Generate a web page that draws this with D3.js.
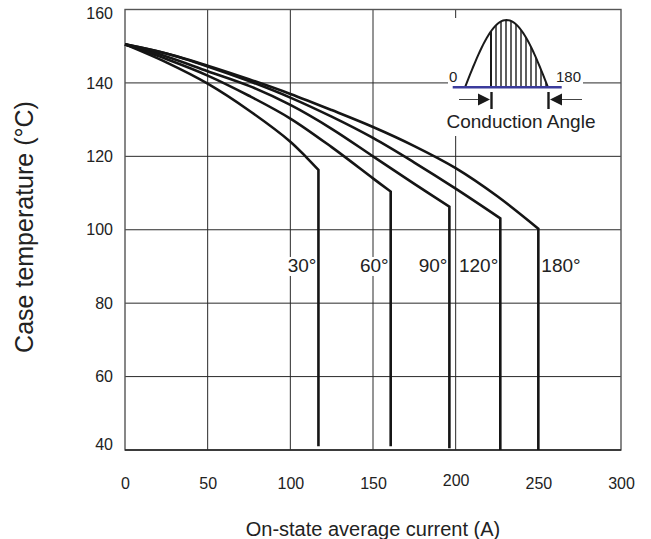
<!DOCTYPE html>
<meta charset="utf-8">
<html>
<head>
    <title>Case temperature vs on-state average current</title>
</head>
<style>
    *{ margin:0; padding:0;}
    body{ background:#fff;}
    svg text{ font-family:'Liberation Sans', Arial, sans-serif; fill:#222;}
</style>
<body>
<div id="chartContainer"></div>
<script src="https://cdn.jsdelivr.net/npm/d3@7"></script>
<script type="text/javascript">

    // curve data: [current A, case temp C]
    var angles = ["30°", "60°", "90°", "120°", "180°"];
    var curve30  = [[0,150.5],[25,145.6],[50,139.8],[75,132.5],[100,124],[110,119.6],[117,116.3]];
    var curve60  = [[0,150.5],[25,146.5],[50,142],[75,136.5],[100,130.3],[125,122.5],[150,114],[160.7,110.4]];
    var curve90  = [[0,150.5],[25,147.2],[50,143.2],[75,139.2],[100,134],[125,127.5],[150,120],[175,112.5],[196.2,106.3]];
    var curve120 = [[0,150.5],[25,148],[50,144.5],[75,140.5],[100,136],[125,130.8],[150,125],[175,118.3],[200,111.2],[227,103.1]];
    var curve180 = [[0,150.5],[25,148],[50,144.7],[75,141],[100,137],[125,132.6],[150,128],[175,122.8],[200,116.8],[225,109.2],[250,100.3]];
    var curveEnds = [41, 41, 40.5, 40, 40];   // where the vertical drops stop

    var xTicks = [0, 50, 100, 150, 200, 250, 300];
    var yTicks = [40, 60, 80, 100, 120, 140, 160];
    var xGrid = [50, 100, 150, 200];
    var yGrid = [60, 80, 100, 120, 140];

    var curves = [curve30, curve60, curve90, curve120, curve180];

    var svg = d3.select("#chartContainer").append("svg")
        .attr("width", 651).attr("height", 539);

    var x = d3.scaleLinear().domain([0, 300]).range([125, 621]);
    var y = d3.scaleLinear().domain([40, 160]).range([450, 9.5]);

    // grid
    var grid = svg.append("g").attr("stroke", "#2a2a2a").attr("stroke-width", 1);
    xGrid.forEach(function (v) {
        grid.append("line").attr("x1", x(v)).attr("x2", x(v)).attr("y1", y(160)).attr("y2", y(40));
    });
    yGrid.forEach(function (v) {
        grid.append("line").attr("x1", x(0)).attr("x2", x(300)).attr("y1", y(v)).attr("y2", y(v));
    });
    svg.append("rect")
        .attr("x", x(0)).attr("y", y(160))
        .attr("width", x(300) - x(0)).attr("height", y(40) - y(160))
        .attr("fill", "none").attr("stroke", "#555").attr("stroke-width", 1.4);
    svg.append("line").attr("x1", x(0)).attr("x2", x(300)).attr("y1", y(40)).attr("y2", y(40))
        .attr("stroke", "#222").attr("stroke-width", 1.4);

    // axes (labels only)
    var xAxis = svg.append("g").attr("transform", "translate(0," + y(40) + ")")
        .call(d3.axisBottom(x).tickValues(xTicks).tickSize(0).tickPadding(28));
    var yAxis = svg.append("g").attr("transform", "translate(" + x(0) + ",0)")
        .call(d3.axisLeft(y).tickValues(yTicks).tickSize(0).tickPadding(12));
    [xAxis, yAxis].forEach(function (a) {
        a.select(".domain").remove();
        a.selectAll("text").style("font-size", "16px").attr("fill", "#222")
            .style("font-family", "'Liberation Sans', Arial, sans-serif");
    });
    xAxis.selectAll("text").filter(function (d) { return d === 200; }).attr("y", 25);
    yAxis.selectAll("text").filter(function (d) { return d === 160; }).attr("dy", "0.55em");
    yAxis.selectAll("text").filter(function (d) { return d === 40; }).attr("dy", "-0.05em");

    svg.append("text")
        .attr("x", 373).attr("y", 536)
        .attr("text-anchor", "middle")
        .style("font-size", "20px")
        .text("On-state average current (A)");
    svg.append("text")
        .attr("transform", "translate(33,227) rotate(-90)")
        .attr("text-anchor", "middle")
        .style("font-size", "25px")
        .text("Case temperature (°C)");

    // conduction angle labels, white box behind them hides the grid
    curves.forEach(function (c, i) {
        var knee = c[c.length - 1];
        var last = i === curves.length - 1;
        var g = svg.append("g");
        var t = g.append("text")
            .attr("x", last ? x(knee[0]) + 3 : x(knee[0]) - 2)
            .attr("y", y(88.5))
            .attr("text-anchor", last ? "start" : "end")
            .style("font-size", "19px")
            .text(angles[i]);
        var b = t.node().getBBox();
        g.insert("rect", "text")
            .attr("x", b.x).attr("y", b.y + 2)
            .attr("width", b.width).attr("height", b.height - 2)
            .attr("fill", "#fff");
    });

    // curves
    var line = d3.line()
        .x(function (d) { return x(d[0]); })
        .y(function (d) { return y(d[1]); })
        .curve(d3.curveCatmullRom.alpha(0.5));
    curves.forEach(function (c, i) {
        var knee = c[c.length - 1];
        svg.append("path")
            .attr("d", line(c) + "L" + x(knee[0]) + "," + y(curveEnds[i]))
            .attr("fill", "none")
            .attr("stroke", "#151515")
            .attr("stroke-width", 2.6)
            .attr("stroke-linejoin", "miter");
    });

    // inset: conduction angle sketch
    var inset = svg.append("g");
    inset.append("rect").attr("x", 448).attr("y", 18).attr("width", 135).attr("height", 118).attr("fill", "#fff");
    var h0 = 465, h1 = 548, hBase = 87.3, hTop = 20;
    var hump = d3.range(0, 1.0001, 0.02).map(function (t) {
        return [h0 + t * (h1 - h0), hBase - Math.sin(Math.PI * t) * (hBase - hTop)];
    });
    d3.range(491, 548, 5).forEach(function (hx, k) {
        var t = (hx - h0) / (h1 - h0);
        inset.append("line")
            .attr("x1", hx).attr("x2", hx)
            .attr("y1", hBase).attr("y2", hBase - Math.sin(Math.PI * t) * (hBase - hTop))
            .attr("stroke", "#1a1a1a").attr("stroke-width", k === 0 ? 2 : 1.4);
    });
    inset.append("path")
        .attr("d", d3.line()(hump))
        .attr("fill", "none").attr("stroke", "#1a1a1a").attr("stroke-width", 2);
    inset.append("line").attr("x1", 452.7).attr("x2", 561.7).attr("y1", hBase).attr("y2", hBase)
        .attr("stroke", "#3b3b9c").attr("stroke-width", 2.6);
    // markers and arrows
    inset.append("line").attr("x1", 491.5).attr("x2", 491.5).attr("y1", 92).attr("y2", 109)
        .attr("stroke", "#1a1a1a").attr("stroke-width", 2.4);
    inset.append("line").attr("x1", 548.5).attr("x2", 548.5).attr("y1", 92).attr("y2", 109)
        .attr("stroke", "#1a1a1a").attr("stroke-width", 2.4);
    inset.append("line").attr("x1", 459).attr("x2", 479).attr("y1", 99.5).attr("y2", 99.5)
        .attr("stroke", "#444").attr("stroke-width", 1);
    inset.append("line").attr("x1", 561).attr("x2", 582).attr("y1", 99.5).attr("y2", 99.5)
        .attr("stroke", "#444").attr("stroke-width", 1);
    inset.append("path").attr("d", "M478,93.5L490,99.5L478,105.5Z").attr("fill", "#1a1a1a");
    inset.append("path").attr("d", "M562,93.5L550,99.5L562,105.5Z").attr("fill", "#1a1a1a");
    inset.append("text").attr("x", 449).attr("y", 81.5).style("font-size", "15px").text("0");
    inset.append("text").attr("x", 556).attr("y", 81.5).style("font-size", "15px").text("180");
    inset.append("text").attr("x", 521).attr("y", 127.5).attr("text-anchor", "middle")
        .style("font-size", "19px").text("Conduction Angle");

</script>
</body>
</html>
